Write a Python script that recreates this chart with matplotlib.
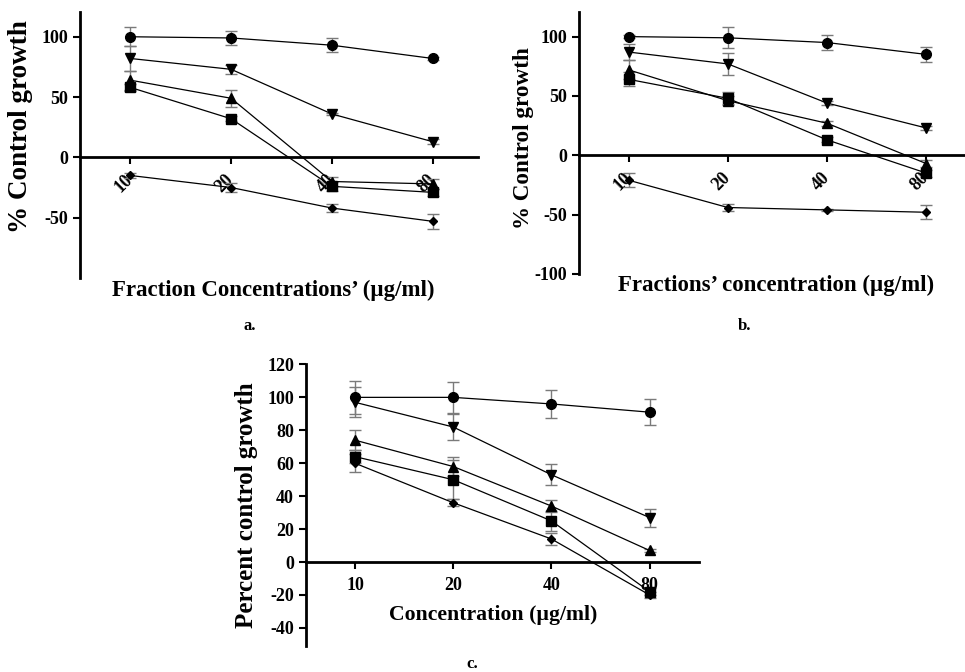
import matplotlib
matplotlib.use("Agg")
import matplotlib.pyplot as plt
import numpy as np

plt.rcParams['font.family'] = ['Liberation Serif', 'DejaVu Serif']
plt.rcParams['font.weight'] = 'bold'

concentrations = ["10", "20", "40", "80"]

# Panel a
a_circle = [100, 99, 93, 82]
a_circle_err = [8, 6, 6, 1]
a_down = [82, 73, 36, 13]
a_down_err = [10, 4, 1, 2]
a_up = [64, 49, -20, -22]
a_up_err = [8, 7, 4, 4]
a_square = [58, 32, -24, -29]
a_square_err = [3, 2, 4, 3]
a_diamond = [-15, -25, -42, -53]
a_diamond_err = [2, 4, 3, 6]

# Panel b
b_circle = [100, 99, 95, 85]
b_circle_err = [1, 9, 6, 6]
b_down = [87, 77, 44, 23]
b_down_err = [7, 9, 2, 2]
b_up = [72, 46, 27, -7]
b_up_err = [8, 4, 2, 3]
b_square = [64, 48, 13, -15]
b_square_err = [6, 5, 2, 3]
b_diamond = [-21, -44, -46, -48]
b_diamond_err = [6, 3, 1, 6]

# Panel c
c_circle = [100, 100, 96, 91]
c_circle_err = [10, 9.5, 8.5, 8]
c_down = [97, 82, 53, 27]
c_down_err = [9, 8, 6.5, 5.5]
c_up = [74, 58, 34, 7]
c_up_err = [6, 6, 3.5, 1]
c_square = [64, 50, 25, -18]
c_square_err = [4, 12, 6, 2]
c_diamond = [60, 36, 14, -20]
c_diamond_err = [5.5, 2, 3.5, 2]

markers = ['o', 'v', '^', 's', 'D']
msizes = [7, 7, 7, 6.5, 4.5]

fig = plt.figure(figsize=(9.65, 6.72), dpi=100)


def draw(ax, series, errs, xlim, ylim, yticks, rotate, tick_fs):
    ax.spines['top'].set_visible(False)
    ax.spines['right'].set_visible(False)
    ax.spines['bottom'].set_position(('data', 0))
    ax.spines['left'].set_linewidth(2)
    ax.spines['bottom'].set_linewidth(2)
    x = np.arange(len(concentrations))
    for vals, err, m, ms in zip(series, errs, markers, msizes):
        ax.errorbar(x, vals, yerr=err, fmt='none', ecolor='#7a7a7a',
                    elinewidth=1.0, capsize=4, capthick=1.0, zorder=2)
        ax.plot(x, vals, color='black', linewidth=0.9, marker=m,
                markersize=ms, markerfacecolor='black',
                markeredgecolor='black', zorder=3)
    ax.set_xlim(*xlim)
    ax.set_ylim(*ylim)
    ax.tick_params(axis='both', direction='out', width=1.5, length=5)
    ax.tick_params(axis='x', pad=9 if rotate else 6)
    ax.set_yticks(yticks)
    ax.set_yticklabels([str(v) for v in yticks], fontsize=tick_fs,
                       fontweight='bold')
    ax.set_xticks(x)
    ax.set_xticklabels(concentrations, fontsize=tick_fs, fontweight='bold')
    if rotate:
        for lab in ax.get_xticklabels():
            lab.set_rotation(45)
            lab.set_ha('right')
            lab.set_va('center')
            lab.set_rotation_mode('anchor')
    ax.patch.set_alpha(0)


axa = fig.add_axes([0.0829, 0.5863, 0.4124, 0.3958])
draw(axa, [a_circle, a_down, a_up, a_square, a_diamond],
     [a_circle_err, a_down_err, a_up_err, a_square_err, a_diamond_err],
     (-0.5, 3.45), (-100, 120.5), [-50, 0, 50, 100], True, 13)

axb = fig.add_axes([0.600, 0.5923, 0.400, 0.3903])
draw(axb, [b_circle, b_down, b_up, b_square, b_diamond],
     [b_circle_err, b_down_err, b_up_err, b_square_err, b_diamond_err],
     (-0.5, 3.39), (-100, 121), [-100, -50, 0, 50, 100], True, 13)

axc = fig.add_axes([0.317, 0.0387, 0.407, 0.419])
draw(axc, [c_circle, c_down, c_up, c_square, c_diamond],
     [c_circle_err, c_down_err, c_up_err, c_square_err, c_diamond_err],
     (-0.5, 3.5), (-51, 120), [-40, -20, 0, 20, 40, 60, 80, 100, 120],
     False, 13)

# Axis titles
fig.text(273 / 965, 1 - 290 / 672, "Fraction Concentrations\u2019 (\u00b5g/ml)",
         ha='center', va='center', fontsize=16.5, fontweight='bold')
fig.text(21 / 965, 1 - 127 / 672, "% Control growth", rotation=90,
         ha='center', va='center', fontsize=19.5, fontweight='bold')
fig.text(776 / 965, 1 - 285 / 672, "Fractions\u2019 concentration (\u00b5g/ml)",
         ha='center', va='center', fontsize=16.5, fontweight='bold')
fig.text(524 / 965, 1 - 138 / 672, "% Control growth", rotation=90,
         ha='center', va='center', fontsize=16.7, fontweight='bold')
fig.text(493 / 965, 1 - 615 / 672, "Concentration (\u00b5g/ml)",
         ha='center', va='center', fontsize=15.7, fontweight='bold')
fig.text(247 / 965, 1 - 505 / 672, "Percent control growth", rotation=90,
         ha='center', va='center', fontsize=18, fontweight='bold')

# Panel labels
fig.text(250 / 965, 1 - 326 / 672, "a.", ha='center', va='center',
         fontsize=12, fontweight='bold')
fig.text(745 / 965, 1 - 326 / 672, "b.", ha='center', va='center',
         fontsize=12, fontweight='bold')
fig.text(472 / 965, 1 - 664 / 672, "c.", ha='center', va='center',
         fontsize=12, fontweight='bold')

fig.savefig("out.png", dpi=100)
